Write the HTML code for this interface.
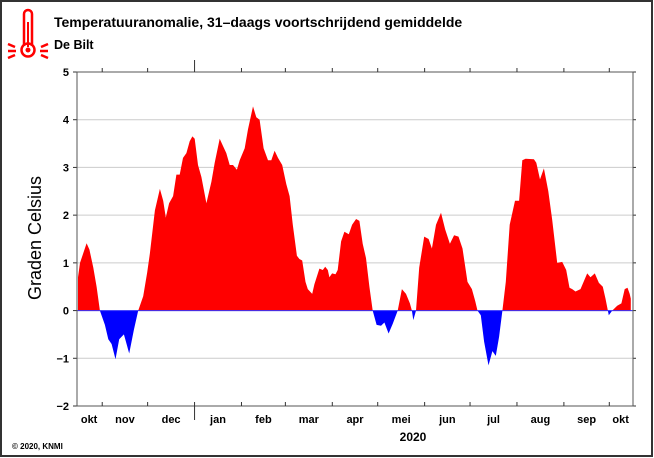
<!DOCTYPE html>
<html><head><meta charset="utf-8">
<style>
html,body{margin:0;padding:0;background:#fff;}
svg{display:block;font-family:"Liberation Sans",sans-serif;}
</style></head>
<body>
<svg id="chart" width="654" height="458" viewBox="0 0 654 458" xmlns="http://www.w3.org/2000/svg">
<rect x="1" y="1" width="651" height="455" fill="#fff" stroke="#333" stroke-width="2"/>
<g stroke="#f00" fill="none" stroke-width="2.5">
<path d="M24 46 V14 a4 4 0 0 1 8 0 V46"/>
<circle cx="28" cy="50" r="6.5"/>
<circle cx="28" cy="50" r="2.5" fill="#f00" stroke="none"/>
<line x1="28" y1="22" x2="28" y2="47" stroke-width="2"/>
<line x1="8" y1="44" x2="15" y2="47"/><line x1="8" y1="51" x2="16" y2="51"/><line x1="8" y1="58" x2="15" y2="55"/>
<line x1="48" y1="44" x2="41" y2="47"/><line x1="48" y1="51" x2="40" y2="51"/><line x1="48" y1="58" x2="41" y2="55"/>
</g>
<text x="54" y="27" font-size="14" font-weight="bold">Temperatuuranomalie, 31–daags voortschrijdend gemiddelde</text>
<text x="54" y="49" font-size="12.5" font-weight="bold">De Bilt</text>
<text transform="translate(41,238) rotate(-90)" text-anchor="middle" font-size="18">Graden Celsius</text>
<text x="12" y="449" font-size="8" font-weight="bold">© 2020, KNMI</text>
<text x="413" y="441" text-anchor="middle" font-size="12" font-weight="bold">2020</text>
<g id="grid"></g>
<g id="area"></g>
<g id="axes"></g>
</svg>
<script>
const yTicks = [-2,-1,0,1,2,3,4,5];
const monthLabels = ["okt","nov","dec","jan","feb","mar","apr","mei","jun","jul","aug","sep","okt"];
const monthStartDays = [-15,16,46,77,108,137,168,198,229,259,290,321,351,366];
const days = [0,1.3,5.7,7.5,10.1,12.3,14.5,17.8,20,22.2,24.8,27.2,30.3,33.8,36.9,39.8,43.1,45.7,47.5,50.8,54.1,56.3,58,60.2,62.8,65,67.2,69.4,71.6,73.8,75.6,77.1,79.3,81.5,84.8,88.1,90.3,93.6,95.8,98,100.2,102.4,105,106.8,110.1,112.3,115.6,117.8,120,122.6,125.5,127.7,129.9,132.1,134.9,137.6,139.8,141.9,144.6,146.3,148.1,150.3,151.8,154.7,156.2,159.5,161.7,163.3,165,166.1,167.9,170.1,171.6,173.8,176,178.9,181.1,183.7,185.9,188.1,190.3,192.5,194.7,197.3,200.2,202.4,205.2,207.9,211.2,214,216.7,219.3,220.6,221.5,223.3,225.4,228.7,231.6,233.8,236.5,239.8,242.6,245.7,248.5,251.4,254,257.3,260.2,262.4,263.9,266.1,268.3,271.2,273.8,276,278.2,280.4,282.6,285.2,288.7,291.4,293.5,295.7,301.2,302.8,305.2,307.8,310.7,313.3,316.6,319.9,322.5,324.7,326.5,328.7,332,336.4,338.6,341.4,344.1,346.7,348.5,350.7,352.9,356.2,359,361.2,363,364.5,365.2];
const anomaly = [0.7,1.0,1.41,1.28,0.9,0.5,0,-0.3,-0.6,-0.7,-1.02,-0.6,-0.5,-0.9,-0.4,0,0.3,0.8,1.2,2.1,2.55,2.3,1.95,2.25,2.4,2.85,2.85,3.2,3.3,3.55,3.65,3.6,3.05,2.8,2.25,2.7,3.1,3.6,3.45,3.3,3.05,3.05,2.95,3.15,3.4,3.8,4.28,4.05,4.0,3.4,3.15,3.15,3.35,3.2,3.05,2.65,2.4,1.8,1.15,1.08,1.05,0.6,0.45,0.35,0.55,0.88,0.85,0.92,0.85,0.7,0.78,0.76,0.85,1.45,1.65,1.6,1.8,1.92,1.88,1.4,1.1,0.5,0,-0.3,-0.32,-0.25,-0.48,-0.28,0,0.45,0.35,0.15,0,-0.2,0,0.9,1.55,1.5,1.3,1.8,2.05,1.7,1.4,1.58,1.55,1.3,0.6,0.45,0.2,0,-0.1,-0.65,-1.15,-0.85,-0.95,-0.55,0,0.6,1.8,2.3,2.3,3.15,3.18,3.17,3.1,2.75,2.98,2.5,1.9,1.0,1.02,0.85,0.48,0.45,0.4,0.45,0.78,0.7,0.78,0.58,0.5,0.25,-0.1,0,0.1,0.15,0.45,0.48,0.35,0.25];

const NS="http://www.w3.org/2000/svg";
const L=77,R=633,T=72,B=406;
const xS=d=>L+1+d*(R-L-2)/366;
const yS=v=>B-(v+2)*(B-T)/7;
function mk(tag,attrs,parent){const e=document.createElementNS(NS,tag);for(const k in attrs)e.setAttribute(k,attrs[k]);parent.appendChild(e);return e;}
const svg=document.getElementById('chart');
const grid=document.getElementById('grid'),area=document.getElementById('area'),axes=document.getElementById('axes');
yTicks.forEach(v=>{
  if(v>-2&&v<5){const g=mk('line',{x1:L,x2:R,y1:yS(v),y2:yS(v),stroke:'#ccc','stroke-width':1},grid);
  
  }
  const t=mk('text',{x:69,y:yS(v)+4,'text-anchor':'end','font-size':11,'font-weight':'bold'},axes);
  t.textContent=(v<0?'−':'')+Math.abs(v);
  
  
  mk('line',{x1:L-4,x2:L,y1:yS(v),y2:yS(v),stroke:'#333'},axes);
  mk('line',{x1:R,x2:R+3,y1:yS(v),y2:yS(v),stroke:'#333'},axes);
});
const defs=mk('defs',{},svg);
const cp1=mk('clipPath',{id:'above'},defs);mk('rect',{x:0,y:0,width:654,height:yS(0)},cp1);
const cp2=mk('clipPath',{id:'below'},defs);mk('rect',{x:0,y:yS(0),width:654,height:458},cp2);
let d='M'+xS(days[0])+','+yS(0);
days.forEach((dd,i)=>{d+=' L'+xS(dd).toFixed(1)+','+yS(anomaly[i]).toFixed(1);});
d+=' L'+xS(days[days.length-1])+','+yS(0)+'Z';
const pos=mk('path',{d:d,fill:'#ff0000','clip-path':'url(#above)'},area);


const neg=mk('path',{d:d,fill:'#0000ff','clip-path':'url(#below)'},area);


const zl=mk('line',{x1:L,x2:R,y1:yS(0),y2:yS(0),stroke:'#33f','stroke-width':1},area);


const fr=mk('rect',{x:L,y:T,width:R-L,height:B-T,fill:'none',stroke:'#555','stroke-width':1},axes);


monthStartDays.forEach((md,i)=>{
  if(md>0&&md<366){const x=xS(md);const jan=(i===3);
    mk('line',{x1:x,x2:x,y1:T-(jan?12:4),y2:T,stroke:'#333'},axes);
    mk('line',{x1:x,x2:x,y1:B-4,y2:B+(jan?14:0),stroke:'#333'},axes);}
  if(i<monthLabels.length){
    const a=Math.max(md,0),b=Math.min(monthStartDays[i+1],366);
    const t=mk('text',{x:(xS(a)+xS(b))/2+(i===0?-1:0),y:423,'text-anchor':'middle','font-size':11,'font-weight':'bold'},axes);
    t.textContent=monthLabels[i];
    
    
  }
});
</script>
</body></html>
